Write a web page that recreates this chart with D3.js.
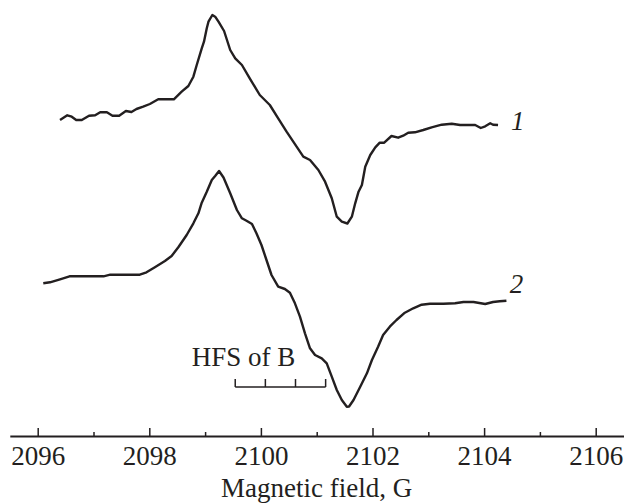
<!DOCTYPE html>
<html>
<head>
<meta charset="utf-8">
<script src="https://cdn.jsdelivr.net/npm/d3@7"></script>
<style>
  body { margin: 0; background: #fff; }
  svg { display: block; font-family: "Liberation Serif", "Times New Roman", serif; }
</style>
</head>
<body>
<svg id="chart" width="624" height="504"></svg>
<script>
// field values (G) and signal (a.u., relative to each trace's baseline)
const field1 = [2096.40, 2096.53, 2096.61, 2096.69, 2096.79, 2096.92, 2097.03, 2097.12, 2097.24, 2097.34,
  2097.46, 2097.58, 2097.68, 2097.77, 2097.89, 2098.01, 2098.16, 2098.44, 2098.58, 2098.70,
  2098.79, 2098.85, 2098.94, 2098.98, 2099.03, 2099.06, 2099.13, 2099.18, 2099.24, 2099.34,
  2099.45, 2099.54, 2099.66, 2099.80, 2099.98, 2100.16, 2100.31, 2100.46, 2100.64, 2100.76,
  2100.88, 2101.03, 2101.15, 2101.27, 2101.36, 2101.45, 2101.55, 2101.63, 2101.69, 2101.75,
  2101.81, 2101.87, 2101.96, 2102.05, 2102.13, 2102.21, 2102.34, 2102.46, 2102.55, 2102.64,
  2102.76, 2102.91, 2103.06, 2103.24, 2103.42, 2103.57, 2103.84, 2103.94, 2104.02, 2104.11,
  2104.16, 2104.25];
const signal1 = [0, 4.7, 3.3, 0, 0, 4.3, 4.7, 7.7, 7.7, 4.3,
  4.3, 9, 8, 11, 13.3, 16, 20.7, 20.7, 28.3, 34,
  43.3, 55, 71.7, 78.3, 91.7, 98.3, 105, 103.3, 98.3, 89,
  70, 61.7, 55, 41.7, 25, 15, 1.7, -11.7, -26.7, -36.7,
  -40, -50, -61.7, -78.3, -96.7, -101.7, -103.5, -96.7, -83.3, -71.7,
  -65, -46.7, -35, -27.3, -22.7, -22.7, -16, -17.7, -15.7, -12.7,
  -12.3, -10, -7.3, -4.7, -3.7, -5, -5, -8, -6.3, -3.3,
  -4.7, -5];

const field2 = [2096.10, 2096.22, 2096.40, 2096.57, 2096.76, 2097.18, 2097.30, 2097.83, 2097.95, 2098.10,
  2098.28, 2098.40, 2098.52, 2098.67, 2098.79, 2098.88, 2098.94, 2099.03, 2099.12, 2099.18,
  2099.25, 2099.33, 2099.45, 2099.57, 2099.66, 2099.75, 2099.84, 2099.92, 2100.01, 2100.10,
  2100.19, 2100.31, 2100.43, 2100.52, 2100.61, 2100.70, 2100.79, 2100.88, 2100.97, 2101.09,
  2101.18, 2101.27, 2101.36, 2101.45, 2101.54, 2101.58, 2101.66, 2101.78, 2101.90, 2101.99,
  2102.10, 2102.19, 2102.31, 2102.43, 2102.58, 2102.73, 2102.88, 2103.03, 2103.27, 2103.48,
  2103.63, 2103.81, 2104.02, 2104.16, 2104.28, 2104.40];
const signal2 = [-0.3, 0.7, 3.7, 6.7, 6.7, 6.7, 8.3, 8.3, 10.7, 15.7,
  22, 27, 35.7, 48, 59.7, 69.7, 80.3, 91.3, 103, 107,
  112, 105.5, 89.7, 73, 64.7, 62, 59, 49.7, 38, 23,
  8, -3.7, -6, -9.7, -20.3, -33.7, -50.3, -65.3, -72, -75.3,
  -80.3, -93.7, -107, -117, -123.7, -123.5, -117, -103.7, -90.3, -77,
  -63.7, -52, -43.7, -37, -29.7, -25.3, -21.7, -20.7, -20.7, -20.3,
  -19, -19, -21, -19, -18.3, -17.7];

// vertical offsets of the two traces
const offsets = [316, 153];
const traceLabels = ["1", "2"];
const labelField = [2104.48, 2104.46];

const majorTicks = [2096, 2098, 2100, 2102, 2104, 2106];
const minorTicks = [2097, 2099, 2101, 2103, 2105];

// hyperfine structure marker
const hfsTicks = [2099.54, 2100.08, 2100.62, 2101.16];

const ink = "#231f20";
const svg = d3.select("#chart");

const x = d3.scaleLinear().domain([2095.5, 2106.5]).range([9.8, 623.6]);
const y = d3.scaleLinear().domain([0, 436]).range([436, 0]);

const line = d3.line()
  .x((d) => x(d[0]))
  .y((d) => y(d[1]));

const traces = [
  d3.zip(field1, signal1.map((v) => v + offsets[0])),
  d3.zip(field2, signal2.map((v) => v + offsets[1]))
];

svg.append("g")
  .selectAll("path")
  .data(traces)
  .join("path")
  .attr("d", line)
  .attr("fill", "none")
  .attr("stroke", ink)
  .attr("stroke-width", 2.4)
  .attr("stroke-linejoin", "round");

svg.append("g")
  .selectAll("text")
  .data(traceLabels)
  .join("text")
  .attr("x", (d, i) => x(labelField[i]))
  .attr("y", (d, i) => y(offsets[i]) + 10)
  .attr("font-size", 27)
  .attr("font-style", "italic")
  .attr("fill", ink)
  .text((d) => d);

// x axis: major ticks with labels, minor ticks without
const axisY = y(0);
const gx = svg.append("g")
  .attr("transform", `translate(0,${axisY})`)
  .call(d3.axisBottom(x).tickValues(majorTicks).tickFormat(d3.format("d"))
    .tickSizeInner(-8).tickSizeOuter(0).tickPadding(10));
gx.select(".domain").attr("stroke", ink).attr("stroke-width", 2);
gx.selectAll(".tick line").attr("stroke", ink).attr("stroke-width", 1.5);
gx.selectAll(".tick text")
  .attr("font-family", "Liberation Serif, serif")
  .attr("font-size", 27)
  .attr("fill", ink);

const gm = svg.append("g")
  .attr("transform", `translate(0,${axisY})`)
  .call(d3.axisBottom(x).tickValues(minorTicks).tickFormat("")
    .tickSizeInner(-4).tickSizeOuter(0));
gm.select(".domain").remove();
gm.selectAll(".tick line").attr("stroke", ink).attr("stroke-width", 1.5);

svg.append("text")
  .attr("x", x(2101))
  .attr("y", 497)
  .attr("text-anchor", "middle")
  .attr("font-size", 27)
  .attr("fill", ink)
  .text("Magnetic field, G");

// HFS scale bar
const hfsY = 387;
const hfs = svg.append("g").attr("stroke", ink).attr("stroke-width", 1.5);
hfs.append("line")
  .attr("x1", x(hfsTicks[0]))
  .attr("x2", x(hfsTicks[hfsTicks.length - 1]))
  .attr("y1", hfsY)
  .attr("y2", hfsY);
hfs.selectAll(".t")
  .data(hfsTicks)
  .join("line")
  .attr("class", "t")
  .attr("x1", (d) => x(d))
  .attr("x2", (d) => x(d))
  .attr("y1", hfsY)
  .attr("y2", hfsY - 8);

svg.append("text")
  .attr("x", x(2098.76))
  .attr("y", 366)
  .attr("font-size", 27)
  .attr("fill", ink)
  .text("HFS of B");
</script>
</body>
</html>
